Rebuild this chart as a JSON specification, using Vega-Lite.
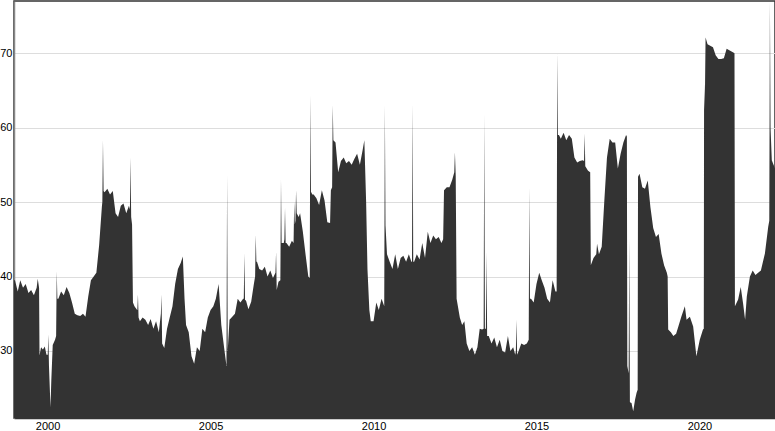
{
  "$schema": "https://vega.github.io/schema/vega-lite/v6.json",
  "width": 761,
  "height": 417,
  "autosize": "none",
  "padding": {"left": 14, "top": 1, "right": 0, "bottom": 13},
  "config": {"view": {"stroke": "#333333", "strokeWidth": 1.5}, "font": "Liberation Sans"},
  "data": {"values": [
    {"date":"1998-12-21","value":39.5},{"date":"1999-01-01","value":39.5},{"date":"1999-02-01","value":38.0},{"date":"1999-03-01","value":39.5},
    {"date":"1999-04-01","value":38.5},{"date":"1999-05-01","value":39.0},{"date":"1999-06-01","value":37.8},{"date":"1999-07-01","value":38.2},
    {"date":"1999-08-01","value":37.5},{"date":"1999-09-01","value":38.5},{"date":"1999-09-13","value":39.7},{"date":"1999-09-28","value":38.5},
    {"date":"1999-10-03","value":29.4},{"date":"1999-10-20","value":30.5},{"date":"1999-11-10","value":30.2},{"date":"1999-12-01","value":30.6},
    {"date":"1999-12-20","value":29.5},{"date":"2000-01-03","value":29.5},{"date":"2000-01-10","value":32.2},{"date":"2000-01-17","value":28.0},
    {"date":"2000-02-03","value":22.4},{"date":"2000-02-12","value":26.0},{"date":"2000-02-28","value":30.8},{"date":"2000-03-25","value":31.5},
    {"date":"2000-04-06","value":32.0},{"date":"2000-04-13","value":40.7},{"date":"2000-04-20","value":37.0},{"date":"2000-05-01","value":37.0},
    {"date":"2000-06-01","value":38.0},{"date":"2000-07-01","value":37.5},{"date":"2000-08-01","value":38.6},{"date":"2000-09-01","value":37.8},
    {"date":"2000-10-01","value":36.5},{"date":"2000-11-01","value":35.0},{"date":"2000-12-01","value":34.8},{"date":"2001-01-01","value":34.7},
    {"date":"2001-02-01","value":35.0},{"date":"2001-03-01","value":34.6},{"date":"2001-04-01","value":37.3},{"date":"2001-05-01","value":39.5},
    {"date":"2001-06-01","value":40.0},{"date":"2001-07-01","value":40.5},{"date":"2001-08-01","value":44.2},{"date":"2001-09-01","value":49.4},
    {"date":"2001-09-06","value":50.0},{"date":"2001-09-13","value":58.3},{"date":"2001-09-20","value":51.5},{"date":"2001-10-01","value":51.3},
    {"date":"2001-11-01","value":51.8},{"date":"2001-12-01","value":51.0},{"date":"2002-01-01","value":51.5},{"date":"2002-02-01","value":48.5},
    {"date":"2002-03-01","value":48.0},{"date":"2002-04-01","value":49.5},{"date":"2002-05-01","value":49.8},{"date":"2002-06-01","value":48.5},
    {"date":"2002-07-01","value":49.5},{"date":"2002-07-12","value":49.0},{"date":"2002-07-19","value":56.0},{"date":"2002-07-26","value":48.0},
    {"date":"2002-08-05","value":47.0},{"date":"2002-08-15","value":36.5},{"date":"2002-09-01","value":36.0},{"date":"2002-10-01","value":35.5},
    {"date":"2002-10-03","value":35.5},{"date":"2002-10-10","value":37.6},{"date":"2002-10-17","value":34.5},{"date":"2002-11-01","value":34.0},
    {"date":"2002-12-01","value":34.5},{"date":"2003-01-01","value":34.2},{"date":"2003-02-01","value":33.5},{"date":"2003-03-01","value":34.3},
    {"date":"2003-04-01","value":33.0},{"date":"2003-05-01","value":34.0},{"date":"2003-06-01","value":32.5},{"date":"2003-06-24","value":35.0},
    {"date":"2003-07-01","value":37.6},{"date":"2003-07-08","value":31.0},{"date":"2003-08-01","value":30.4},{"date":"2003-09-01","value":33.0},
    {"date":"2003-10-01","value":34.5},{"date":"2003-11-01","value":36.0},{"date":"2003-12-01","value":39.0},{"date":"2004-01-01","value":41.0},
    {"date":"2004-02-01","value":41.8},{"date":"2004-02-25","value":42.7},{"date":"2004-03-15","value":37.0},{"date":"2004-04-01","value":33.5},
    {"date":"2004-05-01","value":32.5},{"date":"2004-06-01","value":29.3},{"date":"2004-07-01","value":28.3},{"date":"2004-08-01","value":30.5},
    {"date":"2004-09-01","value":30.0},{"date":"2004-10-01","value":33.0},{"date":"2004-11-01","value":32.5},{"date":"2004-12-01","value":34.5},
    {"date":"2005-01-01","value":35.5},{"date":"2005-02-01","value":36.0},{"date":"2005-03-01","value":37.0},{"date":"2005-04-01","value":39.0},
    {"date":"2005-05-01","value":33.5},{"date":"2005-06-01","value":30.5},{"date":"2005-06-28","value":28.0},{"date":"2005-07-05","value":53.6},
    {"date":"2005-07-12","value":30.0},{"date":"2005-08-01","value":34.2},{"date":"2005-09-01","value":34.6},{"date":"2005-10-01","value":35.0},
    {"date":"2005-11-01","value":37.0},{"date":"2005-12-01","value":36.5},{"date":"2006-01-01","value":37.0},{"date":"2006-01-08","value":37.0},
    {"date":"2006-01-15","value":43.1},{"date":"2006-01-22","value":36.8},{"date":"2006-02-01","value":36.8},{"date":"2006-03-01","value":35.6},
    {"date":"2006-04-01","value":36.6},{"date":"2006-05-01","value":39.0},{"date":"2006-05-15","value":40.0},{"date":"2006-05-22","value":45.6},
    {"date":"2006-05-29","value":42.0},{"date":"2006-06-05","value":42.0},{"date":"2006-07-01","value":41.0},{"date":"2006-08-01","value":40.8},
    {"date":"2006-09-01","value":41.3},{"date":"2006-10-01","value":40.0},{"date":"2006-11-01","value":40.8},{"date":"2006-12-01","value":39.8},
    {"date":"2006-12-29","value":40.5},{"date":"2007-01-05","value":43.3},{"date":"2007-01-12","value":38.2},{"date":"2007-02-01","value":39.3},
    {"date":"2007-02-22","value":39.5},{"date":"2007-03-01","value":53.0},{"date":"2007-03-08","value":44.5},{"date":"2007-04-01","value":44.5},
    {"date":"2007-04-08","value":45.0},{"date":"2007-04-15","value":49.2},{"date":"2007-04-22","value":44.5},{"date":"2007-05-01","value":44.5},
    {"date":"2007-06-01","value":44.0},{"date":"2007-07-01","value":44.8},{"date":"2007-07-20","value":44.5},{"date":"2007-07-27","value":50.0},
    {"date":"2007-08-03","value":47.0},{"date":"2007-08-10","value":47.5},{"date":"2007-08-17","value":51.6},{"date":"2007-08-24","value":48.5},
    {"date":"2007-09-15","value":48.0},{"date":"2007-10-01","value":48.5},{"date":"2007-11-01","value":46.0},{"date":"2007-12-01","value":43.0},
    {"date":"2008-01-01","value":40.0},{"date":"2008-01-17","value":39.8},{"date":"2008-01-24","value":64.3},{"date":"2008-01-31","value":51.4},
    {"date":"2008-02-15","value":51.0},{"date":"2008-03-01","value":51.0},{"date":"2008-04-01","value":50.5},{"date":"2008-05-01","value":49.6},
    {"date":"2008-06-01","value":51.6},{"date":"2008-07-01","value":50.2},{"date":"2008-08-01","value":47.3},{"date":"2008-09-01","value":47.2},
    {"date":"2008-09-10","value":51.6},{"date":"2008-09-24","value":52.0},{"date":"2008-10-01","value":63.0},{"date":"2008-10-08","value":58.3},
    {"date":"2008-11-01","value":58.0},{"date":"2008-12-01","value":54.0},{"date":"2009-01-01","value":55.5},{"date":"2009-02-01","value":56.0},
    {"date":"2009-03-01","value":55.2},{"date":"2009-04-01","value":55.5},{"date":"2009-05-01","value":55.0},{"date":"2009-06-01","value":55.8},
    {"date":"2009-07-01","value":56.5},{"date":"2009-08-01","value":55.0},{"date":"2009-09-01","value":57.0},{"date":"2009-09-20","value":58.3},
    {"date":"2009-10-10","value":50.0},{"date":"2009-10-25","value":41.0},{"date":"2009-11-15","value":35.5},{"date":"2009-12-01","value":34.0},
    {"date":"2010-01-01","value":34.0},{"date":"2010-02-01","value":36.5},{"date":"2010-03-01","value":35.5},{"date":"2010-04-01","value":37.0},
    {"date":"2010-05-01","value":36.0},{"date":"2010-05-08","value":63.0},{"date":"2010-05-15","value":46.9},{"date":"2010-06-01","value":43.0},
    {"date":"2010-07-01","value":42.0},{"date":"2010-08-01","value":41.0},{"date":"2010-09-01","value":43.0},{"date":"2010-10-01","value":41.0},
    {"date":"2010-11-01","value":42.5},{"date":"2010-12-01","value":42.8},{"date":"2011-01-01","value":42.0},{"date":"2011-02-01","value":43.0},
    {"date":"2011-03-01","value":42.0},{"date":"2011-03-08","value":42.0},{"date":"2011-03-15","value":63.1},{"date":"2011-03-22","value":42.0},
    {"date":"2011-04-01","value":42.0},{"date":"2011-05-01","value":43.0},{"date":"2011-06-01","value":42.3},{"date":"2011-07-01","value":44.5},
    {"date":"2011-08-01","value":42.5},{"date":"2011-09-01","value":46.0},{"date":"2011-10-01","value":44.5},{"date":"2011-11-01","value":45.5},
    {"date":"2011-12-01","value":45.0},{"date":"2012-01-01","value":45.3},{"date":"2012-02-01","value":44.5},{"date":"2012-02-20","value":45.0},
    {"date":"2012-03-01","value":51.6},{"date":"2012-04-01","value":52.0},{"date":"2012-05-01","value":52.0},{"date":"2012-06-01","value":53.0},
    {"date":"2012-06-24","value":54.0},{"date":"2012-07-01","value":56.7},{"date":"2012-07-10","value":53.5},{"date":"2012-07-20","value":37.0},
    {"date":"2012-08-25","value":34.5},{"date":"2012-09-20","value":33.5},{"date":"2012-10-15","value":34.0},{"date":"2012-11-10","value":31.0},
    {"date":"2012-12-10","value":30.0},{"date":"2013-01-10","value":30.5},{"date":"2013-02-10","value":29.5},{"date":"2013-03-10","value":30.5},
    {"date":"2013-04-05","value":33.0},{"date":"2013-05-01","value":32.9},{"date":"2013-05-19","value":33.0},{"date":"2013-05-26","value":61.8},
    {"date":"2013-06-02","value":33.0},{"date":"2013-06-13","value":33.0},{"date":"2013-06-20","value":43.3},{"date":"2013-06-27","value":32.0},
    {"date":"2013-07-15","value":32.0},{"date":"2013-08-15","value":31.0},{"date":"2013-09-15","value":31.8},{"date":"2013-10-15","value":30.5},
    {"date":"2013-11-15","value":31.5},{"date":"2013-12-15","value":30.0},{"date":"2014-01-15","value":29.8},{"date":"2014-02-15","value":32.0},
    {"date":"2014-03-15","value":30.0},{"date":"2014-04-15","value":30.5},{"date":"2014-05-08","value":29.5},{"date":"2014-05-15","value":30.0},
    {"date":"2014-05-22","value":34.2},{"date":"2014-05-29","value":29.5},{"date":"2014-06-15","value":30.0},{"date":"2014-07-15","value":31.0},
    {"date":"2014-08-15","value":30.8},{"date":"2014-09-15","value":31.0},{"date":"2014-10-06","value":31.5},{"date":"2014-10-13","value":52.0},
    {"date":"2014-10-20","value":37.0},{"date":"2014-11-01","value":37.0},{"date":"2014-12-01","value":36.5},{"date":"2015-01-01","value":39.0},
    {"date":"2015-02-01","value":40.5},{"date":"2015-03-01","value":39.5},{"date":"2015-04-01","value":38.5},{"date":"2015-05-01","value":37.0},
    {"date":"2015-06-01","value":36.5},{"date":"2015-07-01","value":39.5},{"date":"2015-08-01","value":38.0},{"date":"2015-08-15","value":38.0},
    {"date":"2015-08-22","value":70.1},{"date":"2015-08-29","value":59.0},{"date":"2015-09-10","value":59.0},{"date":"2015-10-01","value":58.5},
    {"date":"2015-11-01","value":59.3},{"date":"2015-12-01","value":58.3},{"date":"2016-01-01","value":59.0},{"date":"2016-02-01","value":58.5},
    {"date":"2016-03-01","value":56.0},{"date":"2016-04-01","value":55.3},{"date":"2016-05-01","value":55.5},{"date":"2016-06-01","value":55.6},
    {"date":"2016-06-17","value":55.5},{"date":"2016-06-24","value":59.2},{"date":"2016-07-01","value":54.8},
    {"date":"2016-08-01","value":54.2},{"date":"2016-08-25","value":54.0},{"date":"2016-09-01","value":41.5},{"date":"2016-10-01","value":42.5},
    {"date":"2016-11-01","value":43.0},{"date":"2016-11-10","value":44.4},{"date":"2016-12-01","value":43.0},{"date":"2017-01-01","value":44.0},
    {"date":"2017-02-01","value":50.5},{"date":"2017-03-01","value":56.0},{"date":"2017-04-01","value":58.5},{"date":"2017-05-01","value":58.0},
    {"date":"2017-06-01","value":58.0},{"date":"2017-07-01","value":54.5},{"date":"2017-08-01","value":56.5},{"date":"2017-09-01","value":58.0},
    {"date":"2017-10-01","value":59.0},{"date":"2017-10-10","value":58.8},{"date":"2017-10-15","value":28.0},{"date":"2017-10-30","value":27.0},
    {"date":"2017-11-06","value":45.1},{"date":"2017-11-13","value":23.1},{"date":"2017-12-01","value":23.0},{"date":"2017-12-20","value":21.9},
    {"date":"2018-01-10","value":23.5},{"date":"2018-01-27","value":24.4},{"date":"2018-02-08","value":24.8},{"date":"2018-02-12","value":53.4},
    {"date":"2018-03-01","value":53.8},{"date":"2018-04-01","value":52.0},{"date":"2018-05-01","value":51.8},{"date":"2018-06-01","value":52.9},
    {"date":"2018-07-01","value":49.3},{"date":"2018-08-01","value":46.5},{"date":"2018-09-01","value":45.3},{"date":"2018-10-01","value":45.7},
    {"date":"2018-11-01","value":43.1},{"date":"2018-12-01","value":41.5},{"date":"2019-01-01","value":40.5},{"date":"2019-01-10","value":40.0},
    {"date":"2019-01-16","value":32.9},{"date":"2019-02-15","value":32.5},{"date":"2019-03-15","value":32.0},{"date":"2019-04-15","value":32.3},
    {"date":"2019-05-10","value":33.3},{"date":"2019-06-12","value":34.6},{"date":"2019-07-22","value":36.0},{"date":"2019-08-10","value":34.2},
    {"date":"2019-09-16","value":34.6},{"date":"2019-10-23","value":33.3},{"date":"2019-11-28","value":29.3},{"date":"2020-01-05","value":31.5},
    {"date":"2020-02-10","value":32.9},{"date":"2020-02-19","value":33.0},{"date":"2020-02-22","value":62.3},{"date":"2020-02-26","value":65.9},
    {"date":"2020-03-01","value":62.5},{"date":"2020-03-10","value":72.1},{"date":"2020-04-01","value":71.2},{"date":"2020-05-01","value":71.0},
    {"date":"2020-06-01","value":70.8},{"date":"2020-07-01","value":69.7},{"date":"2020-08-01","value":69.2},{"date":"2020-09-01","value":69.2},
    {"date":"2020-10-01","value":69.3},{"date":"2020-11-01","value":70.6},{"date":"2020-12-01","value":70.4},{"date":"2021-01-15","value":70.1},
    {"date":"2021-01-28","value":70.0},{"date":"2021-02-02","value":36.0},{"date":"2021-03-10","value":36.9},{"date":"2021-04-08","value":38.6},
    {"date":"2021-05-04","value":36.4},{"date":"2021-05-27","value":34.2},{"date":"2021-06-15","value":37.3},{"date":"2021-07-20","value":40.0},
    {"date":"2021-08-20","value":40.8},{"date":"2021-09-20","value":40.2},{"date":"2021-10-20","value":40.5},{"date":"2021-11-20","value":40.8},
    {"date":"2022-01-04","value":43.1},{"date":"2022-02-10","value":46.7},{"date":"2022-02-22","value":47.5},{"date":"2022-03-01","value":76.9},
    {"date":"2022-03-08","value":60.0},{"date":"2022-03-22","value":55.6},{"date":"2022-04-27","value":54.5}
  ]},
  "mark": {"type": "area", "color": "#333333", "clip": true, "interpolate": "linear"},
  "encoding": {
    "x": {
      "field": "date", "type": "temporal",
      "scale": {"domain": [{"year": 1998, "month": 12, "date": 21, "utc": true}, {"year": 2022, "month": 4, "date": 27, "utc": true}]},
      "axis": {"title": null, "format": "%Y", "tickCount": {"interval": "year", "step": 5}, "ticks": false, "grid": false,
               "domainColor": "#333333", "domainWidth": 1.5, "labelPadding": 2, "labelFontSize": 11, "labelColor": "#000000", "labelFont": "Liberation Sans"}
    },
    "y": {
      "field": "value", "type": "quantitative",
      "scale": {"domain": [21, 77], "zero": false, "nice": false},
      "axis": {"title": null, "values": [30, 40, 50, 60, 70], "ticks": false, "grid": true, "gridColor": "#dddddd",
               "domainColor": "#888888", "domainWidth": 1.5, "labelPadding": 2, "labelFontSize": 11, "labelColor": "#000000", "labelFont": "Liberation Sans"}
    }
  }
}
